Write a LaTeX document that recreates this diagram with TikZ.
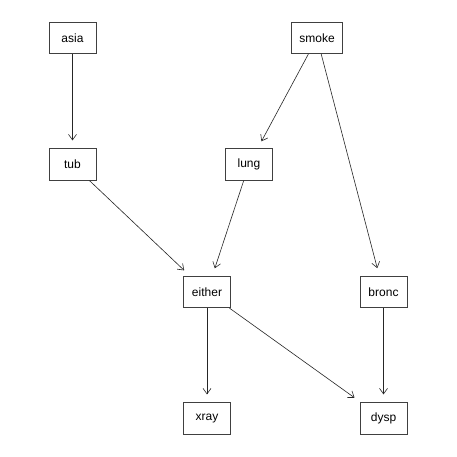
\documentclass[tikz,border=0pt]{standalone}
\usepackage{fontspec}
\setmainfont{Liberation Sans}
\usetikzlibrary{arrows.meta}
\begin{document}
\begin{tikzpicture}[x=1pt,y=-1pt,
  vbox/.style={draw=black!75, line width=0.7pt, fill=white, minimum width=47pt, minimum height=31.5pt, inner xsep=8pt, font=\fontsize{12}{14}\selectfont},
  edge/.style={line width=0.6pt, draw=black!85, -{Straight Barb[length=5.5pt,width=8pt,line width=0.6pt]}, shorten >=8pt}]
\useasboundingbox (0,0) rectangle (457,457);
\fill[white] (0,0) rectangle (457,457);
\node[vbox] (asia)   at (72.5,38)   {asia};
\node[vbox] (smoke)  at (317,38)    {smoke};
\node[vbox] (tub)    at (72.5,164.5) {tub};
\node[vbox] (lung)   at (249,164.5) {lung};
\node[vbox] (either) at (207,292)   {either};
\node[vbox] (bronc)  at (383.5,292)   {bronc};
\node[vbox] (xray)   at (207,418.5) {xray};
\node[vbox] (dysp)   at (383.5,418.5) {dysp};
\draw[edge] (asia) -- (tub);
\draw[edge] (smoke) -- (lung);
\draw[edge] (smoke) -- (bronc);
\draw[edge] (tub) -- (either);
\draw[edge] (lung) -- (either);
\draw[edge] (either) -- (xray);
\draw[edge] (either) -- (dysp);
\draw[edge] (bronc) -- (dysp);
\end{tikzpicture}
\end{document}
